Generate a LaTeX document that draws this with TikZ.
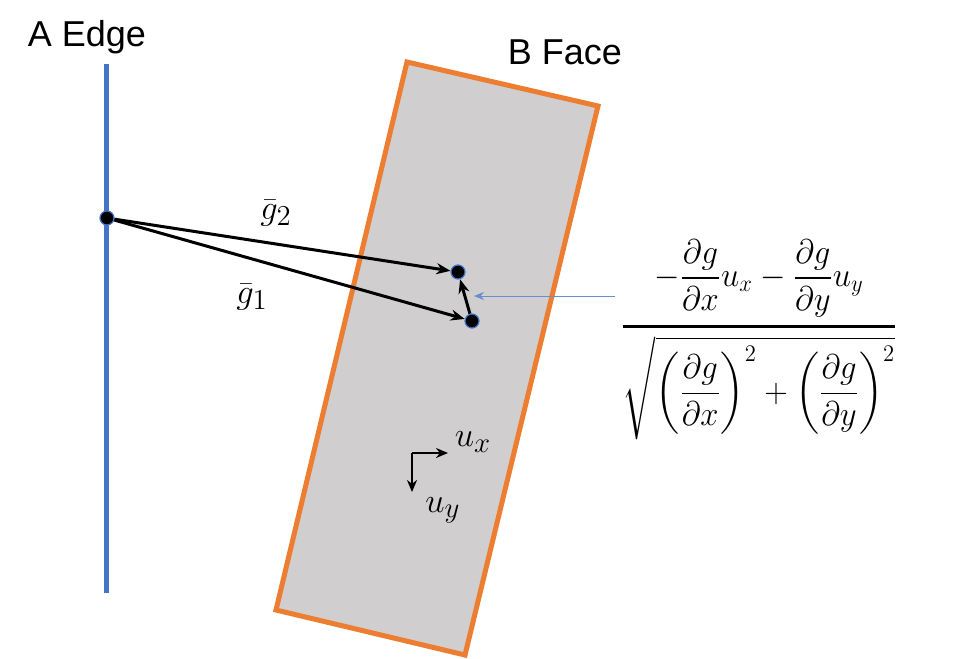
\documentclass[tikz,border=0pt]{standalone}
\usepackage{fontspec}
\setmainfont{Liberation Sans}
\usepackage{amsmath}
\usepackage{graphicx}
\usetikzlibrary{arrows.meta}
\definecolor{edgeblue}{RGB}{68,114,196}
\definecolor{faceorange}{RGB}{237,125,49}
\definecolor{facegray}{RGB}{208,206,206}
\tikzset{
  px/.style={x=0.5pt,y=-0.5pt},
  dot/.style={circle,fill=black,draw=edgeblue,line width=0.6pt,inner sep=0pt,minimum size=7pt},
  vec/.style={-{Stealth[length=7pt,width=5.5pt]},line width=1.5pt,black},
  lbl/.style={font=\fontsize{18}{21}\selectfont,inner sep=0pt},
  mlbl/.style={font=\fontsize{19}{22}\selectfont,inner sep=0pt}
}
\begin{document}
\begin{tikzpicture}[px]
\useasboundingbox (0,0) rectangle (956,658);
% face
\draw[fill=facegray,draw=faceorange,line width=2.5pt,line join=miter]
  (407,62) coordinate (f1) -- (598,106) coordinate (f2) -- (465,655) coordinate (f3) -- (276,610) coordinate (f4) -- cycle;
% edge
\draw[edgeblue,line width=2.5pt] (106,64) coordinate (e1) -- (106,593) coordinate (e2);
\node[lbl] (aedge) at (87,37) {A Edge};
\node[lbl] (bface) at (565,52) {B Face};
% points
\node[dot] (a) at (107,218) {};
\node[dot] (p2) at (458,272) {};
\node[dot] (p1) at (472,321) {};
\draw[vec] (a) -- (p2);
\draw[vec] (a) -- (p1);
\draw[vec] (p1) -- (p2);
\node[mlbl] (g2) at (276,213) {$\bar{g}_2$};
\node[mlbl] (g1) at (252,297) {$\bar{g}_1$};
% formula
\node[font=\fontsize{17.5}{21}\selectfont,inner sep=0pt] (form) at (759,340)
  {\scalebox{0.945}[0.99]{$\genfrac{}{}{1.4pt}{0}{-\dfrac{\partial g}{\partial x}u_x-\dfrac{\partial g}{\partial y}u_y}{\sqrt{\left(\dfrac{\partial g}{\partial x}\right)^{2}+\left(\dfrac{\partial g}{\partial y}\right)^{2}}}$}};
\coordinate (bs) at (615,296);
\coordinate (be) at (474,296);
\draw[edgeblue!80,line width=0.5pt,-{Stealth[length=5pt,width=4pt]}] (bs) -- (be);
% axes
\coordinate (o) at (412,453);
\coordinate (ox) at (448,453);
\coordinate (oy) at (412,492);
\draw[vec,line width=1.2pt,-{Stealth[length=6pt,width=5pt]}] (o) -- (ox);
\draw[vec,line width=1.2pt,-{Stealth[length=6pt,width=5pt]}] (o) -- (oy);
\node[mlbl] (ux) at (473,442) {$u_x$};
\node[mlbl] (uy) at (443,510) {$u_y$};
\end{tikzpicture}
\end{document}
